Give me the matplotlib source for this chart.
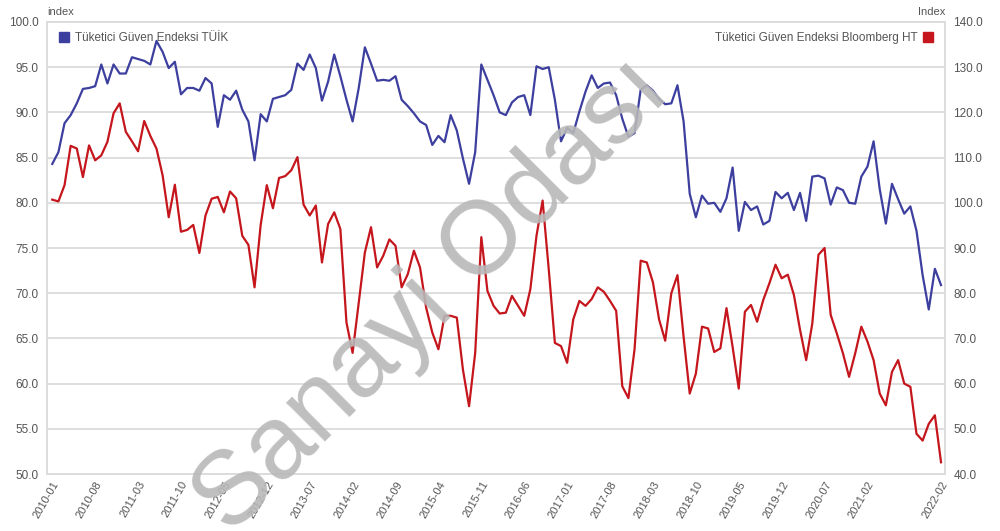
import numpy as np
import pandas as pd
import matplotlib
matplotlib.use("Agg")
import matplotlib.pyplot as plt
from matplotlib.lines import Line2D

plt.rcParams['font.family'] = ['Liberation Sans', 'DejaVu Sans']

# aylik seriler, 2010-01 .. 2022-02
aylar = pd.period_range('2010-01', '2022-02', freq='M').strftime('%Y-%m').tolist()

tuik = [84.3, 85.6, 88.8, 89.7, 91.0, 92.6, 92.7, 92.9, 95.3, 93.2, 95.3, 94.3,
        94.3, 96.1, 95.9, 95.7, 95.3, 97.9, 96.7, 94.9, 95.6, 92.0, 92.7, 92.7,
        92.4, 93.8, 93.2, 88.4, 91.9, 91.4, 92.4, 90.3, 89.0, 84.7, 89.8, 89.0,
        91.5, 91.7, 91.9, 92.5, 95.4, 94.7, 96.4, 94.9, 91.3, 93.4, 96.4, 94.0,
        91.4, 89.0, 92.7, 97.2, 95.4, 93.5, 93.6, 93.5, 94.0, 91.4, 90.7, 89.9,
        89.0, 88.6, 86.4, 87.4, 86.7, 89.7, 88.0, 84.9, 82.1, 85.6, 95.3, 93.6,
        91.9, 90.0, 89.7, 91.1, 91.7, 91.9, 89.7, 95.1, 94.8, 95.0, 91.4, 86.8,
        88.3, 87.7, 90.1, 92.3, 94.1, 92.7, 93.2, 93.3, 91.9, 89.3, 87.3, 87.7,
        92.5, 93.0, 92.4, 91.5, 90.9, 91.0, 93.0, 89.0, 81.0, 78.4, 80.8, 79.9,
        80.0, 79.0, 80.5, 83.9, 76.9, 80.1, 79.2, 79.6, 77.6, 78.0, 81.2, 80.5,
        81.1, 79.2, 81.1, 78.0, 82.9, 83.0, 82.7, 79.8, 81.7, 81.4, 80.0, 79.9,
        82.9, 84.0, 86.8, 81.5, 77.7, 82.1, 80.4, 78.8, 79.6, 76.9, 72.0, 68.2,
        72.7, 70.9]

bloomberg = [100.7, 100.3, 103.9, 112.6, 112.0, 105.7, 112.7, 109.4, 110.5, 113.5, 119.8, 122.0,
             115.7, 113.6, 111.4, 118.1, 114.8, 112.0, 106.1, 96.8, 104.0, 93.6, 94.0, 95.1,
             88.9, 97.2, 100.9, 101.3, 97.9, 102.5, 101.0, 92.7, 90.7, 81.3, 95.1, 103.9,
             98.8, 105.5, 105.9, 107.2, 110.1, 99.6, 97.2, 99.4, 86.8, 95.3, 97.9, 94.2,
             73.5, 66.8, 77.9, 89.0, 94.6, 85.7, 88.3, 91.9, 90.5, 81.3, 84.2, 89.4,
             85.7, 76.8, 71.3, 67.6, 75.0, 75.0, 74.6, 63.1, 55.0, 66.8, 92.4, 80.5,
             77.2, 75.5, 75.7, 79.4, 77.2, 75.0, 80.9, 92.7, 100.5, 85.3, 69.0, 68.3,
             64.6, 74.2, 78.3, 77.2, 78.7, 81.3, 80.3, 78.3, 76.1, 59.4, 56.8, 67.6,
             87.2, 86.8, 82.4, 74.2, 69.5, 80.0, 84.0, 70.4, 57.8, 62.2, 72.6, 72.2,
             67.0, 67.8, 76.7, 68.1, 58.9, 75.9, 77.4, 73.7, 78.5, 82.2, 86.3, 83.3,
             84.1, 79.6, 71.9, 65.2, 73.3, 88.5, 90.0, 75.2, 71.1, 66.7, 61.5, 66.7,
             72.6, 69.3, 65.2, 57.8, 55.2, 62.6, 65.2, 60.0, 59.3, 48.9, 47.4, 51.1,
             53.0, 42.6]

sol_tikler = np.arange(50, 100.1, 5)
sag_tikler = np.arange(40, 140.1, 10)

mavi = '#3d3f9f'
kirmizi = '#c4161c'
gri = '#555555'

x = np.arange(len(aylar))
fig = plt.figure(figsize=(10, 5.31), dpi=100)
ax = fig.add_axes([0.047, 0.1073, 0.898, 0.8513])
ax2 = ax.twinx()

ax.plot(x, tuik, color=mavi, lw=1.6, zorder=3)
ax2.plot(x, bloomberg, color=kirmizi, lw=1.6, zorder=3)

ax.set_xlim(-0.86, 145.65)
ax.set_ylim(50, 100)
ax2.set_ylim(40, 140)
ax.set_yticks(sol_tikler)
ax.set_yticklabels(['%.1f' % v for v in sol_tikler])
ax2.set_yticks(sag_tikler)
ax2.set_yticklabels(['%.1f' % v for v in sag_tikler])
ax.grid(axis='y', color='#dedede', lw=1.4)
ax.set_axisbelow(True)

tik = list(range(0, 134, 7)) + [len(aylar) - 1]
ax.set_xticks(tik)
ax.set_xticklabels([aylar[i] for i in tik], rotation=60, ha='right',
                   rotation_mode='anchor', fontsize=8, color=gri)
ax.tick_params(axis='x', length=0, pad=4)
ax.tick_params(axis='y', length=0, labelsize=8.5, labelcolor=gri, pad=6)
ax2.tick_params(axis='y', length=0, labelsize=8.5, labelcolor=gri, pad=6)
for a in (ax, ax2):
    for s in a.spines.values():
        s.set_color('#dcdcdc')
        s.set_linewidth(1.2)

ax.text(0.0, 1.012, 'index', transform=ax.transAxes, fontsize=8, color=gri,
        ha='left', va='bottom')
ax.text(1.0, 1.012, 'Index', transform=ax.transAxes, fontsize=8, color=gri,
        ha='right', va='bottom')

# legendlar
ax.legend([Line2D([], [], ls='', marker='s', color=mavi, ms=6.5)],
          ['Tüketici Güven Endeksi TÜİK'], loc='upper left', frameon=False,
          fontsize=8.5, handlelength=1.2, handletextpad=0.3, borderaxespad=0.45,
          labelcolor=gri)
ax2.legend([Line2D([], [], ls='', marker='s', color=kirmizi, ms=6.5)],
           ['Tüketici Güven Endeksi Bloomberg HT'], loc='upper right', frameon=False,
           fontsize=8.5, handlelength=1.2, handletextpad=0.3, borderaxespad=0.45,
           markerfirst=False, labelcolor=gri)

# filigran
fig.text(0.433, 0.441, 'Sanayi Odası', fontsize=75, color='#b8b8b8', alpha=0.9,
         rotation=45, ha='center', va='center', zorder=10)

fig.savefig('out.png', dpi=100)
